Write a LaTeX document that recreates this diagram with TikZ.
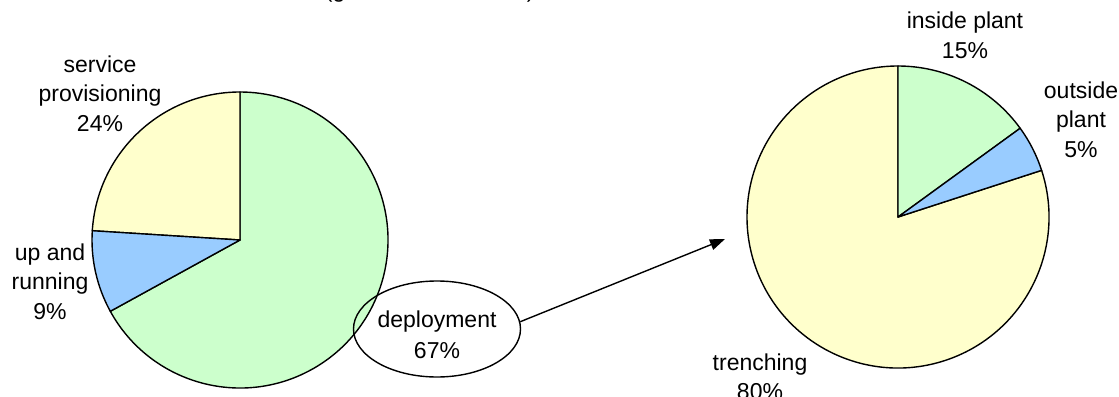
\documentclass[tikz,border=0pt]{standalone}
\usepackage{fontspec}
\setmainfont{Liberation Sans}
\usetikzlibrary{shapes.geometric,arrows.meta}
\definecolor{pgreen}{HTML}{CCFFCC}
\definecolor{pyellow}{HTML}{FFFFCC}
\definecolor{pblue}{HTML}{99CCFF}
\tikzset{
  slice/.style={draw=black, line width=1.4bp, line join=round},
  lbl/.style={font=\fontsize{23bp}{29.5bp}\selectfont, align=center, inner sep=0pt, anchor=base},
  conn/.style={draw=black, line width=1.4bp, -{Triangle[length=15bp,width=11bp]}}
}
\begin{document}
\begin{tikzpicture}[x=1bp,y=1bp]
\useasboundingbox (0,0) rectangle (1119,396);
\clip (0,0) rectangle (1119,396);
\fill[white] (0,0) rectangle (1119,396);
% title (cut off at top)
\node[inner sep=0pt, anchor=base west, font=\fontsize{23bp}{29.5bp}\selectfont] (title) at (0,398.5) {Base costs at first cost element (generation of costs)};
% left pie
\coordinate (lc) at (240,156);
\path[slice, fill=pgreen] (lc) -- ++(208.8:148bp) arc[start angle=208.8, end angle=450, radius=148bp] -- cycle;
\path[slice, fill=pyellow] (lc) -- ++(90:148bp) arc[start angle=90, end angle=176.4, radius=148bp] -- cycle;
\path[slice, fill=pblue] (lc) -- ++(176.4:148bp) arc[start angle=176.4, end angle=208.8, radius=148bp] -- cycle;
% right pie
\coordinate (rc) at (898,179);
\path[slice, fill=pyellow] (rc) -- ++(18:151bp) arc[start angle=18, end angle=-270, radius=151bp] -- cycle;
\path[slice, fill=pgreen] (rc) -- ++(90:151bp) arc[start angle=90, end angle=36, radius=151bp] -- cycle;
\path[slice, fill=pblue] (rc) -- ++(36:151bp) arc[start angle=36, end angle=18, radius=151bp] -- cycle;
% labels (anchor = baseline of last line)
\node[lbl] (prov) at (100,265) {service\\provisioning\\24\%};
\node[lbl] (upr) at (50,77) {up and\\running\\9\%};
\node[lbl] (insp) at (965,338) {inside plant\\15\%};
\node[lbl] (outp) at (1081,239) {outside\\plant\\5\%};
\node[lbl] (trench) at (760,-3.5) {trenching\\80\%};
\node[draw=black, line width=1.4bp, ellipse, minimum width=167bp, minimum height=96bp, inner sep=0pt] (dep) at (437,67) {};
\node[lbl, font=\fontsize{23bp}{31bp}\selectfont] (deptxt) at (437,38) {deployment\\67\%};
\coordinate (tip) at (725,157);
\draw[conn] (dep.5) -- (tip);
\end{tikzpicture}
\end{document}
